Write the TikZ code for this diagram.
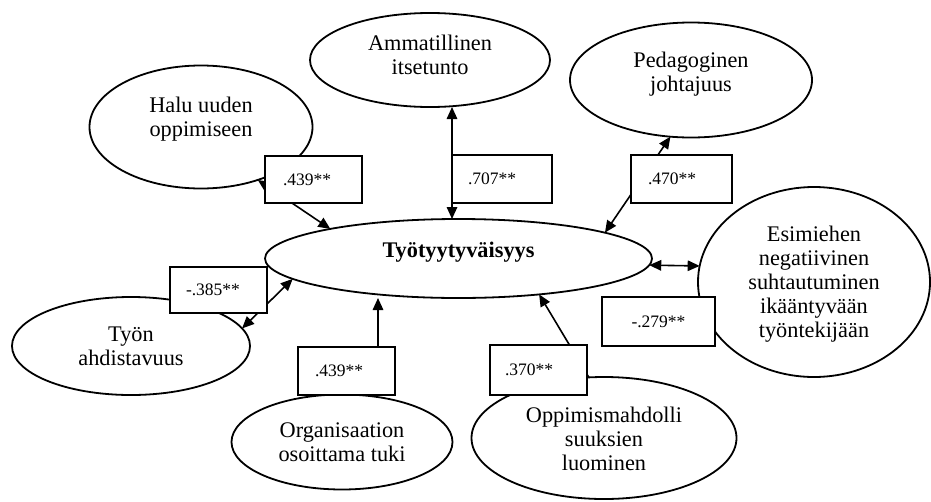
\documentclass[tikz,border=0pt]{standalone}
\usepackage{fontspec}
\setmainfont{Liberation Serif}
\usetikzlibrary{shapes.geometric,arrows.meta}
\newcommand\liftup[2]{\raisebox{#1}[\height][\depth]{\begin{tabular}{@{}c@{}}#2\end{tabular}}}
\begin{document}
\begin{tikzpicture}[x=1pt,y=-1pt,
  lbl/.style={ellipse,draw,fill=white,line width=1.8pt,inner sep=0pt,outer sep=0pt,align=center,font=\fontsize{22.3}{24}\selectfont},
  coef/.style={rectangle,draw,fill=white,line width=1.6pt,inner ysep=0pt,outer sep=0pt,align=left,font=\fontsize{17.5}{20}\selectfont},
  link/.style={line width=1.6pt,-{Triangle[length=12pt,width=10.5pt]}},
  dlink/.style={line width=1.6pt,{Triangle[length=12pt,width=10.5pt]}-{Triangle[length=12pt,width=10.5pt]}}]
\useasboundingbox (0,0) rectangle (931,501);
% ellipses
\node[lbl,minimum width=387pt,minimum height=79pt] (c) at (458.5,258.5) {\liftup{6pt}{\textbf{Työtyytyväisyys}}};
\node[lbl,minimum width=240pt,minimum height=94pt] (amm) at (430,60) {\liftup{2pt}{Ammatillinen\\itsetunto}};
\node[lbl,minimum width=223pt,minimum height=123pt] (halu) at (201,127) {\liftup{7pt}{Halu uuden\\oppimiseen}};
\node[lbl,minimum width=242pt,minimum height=115pt] (ped) at (691,80) {\liftup{5pt}{Pedagoginen\\johtajuus}};
\node[lbl,minimum width=232pt,minimum height=190pt] (esim) at (814,282) {\liftup{-3pt}{Esimiehen\\negatiivinen\\suhtautuminen\\ikääntyvään\\työntekijään}};
\node[lbl,minimum width=238pt,minimum height=98pt] (tyon) at (131,346) {Työn\\ahdistavuus};
\node[lbl,minimum width=221pt,minimum height=95pt] (org) at (342,442) {Organisaation\\osoittama tuki};
\node[lbl,minimum width=265pt,minimum height=122pt] (opp) at (604,438) {\liftup{-4pt}{Oppimismahdolli\\suuksien\\luominen}};
% helper coordinates
\coordinate (x2) at (452,0);
\coordinate (x5) at (378,0);
% connectors
\draw[dlink] (halu.-43.4) -- (c.167.8);
\draw[dlink] (amm.south -| x2) -- (c.north -| x2);
\draw[dlink] (ped.250.3) -- (c.10);
\draw[dlink] (c.-2.6) -- (esim.172.5);
\draw[dlink] (tyon.9.9) -- (c.187.7);
\draw[link] (org.north -| x5) -- (c.south -| x5);
\draw[link] (opp.104.3) -- (c.-24.4);
% coefficient boxes
\node[coef,minimum height=47pt,text width=61pt,inner xsep=18pt] (b1) at (313.5,179.5) {.439**};
\node[coef,minimum height=48pt,text width=68pt,inner xsep=16pt] (b2) at (502,179) {.707**};
\node[coef,minimum height=48pt,text width=67pt,inner xsep=17pt] (b3) at (681.5,179) {.470**};
\node[coef,minimum height=46pt,text width=65pt,inner xsep=16pt] (b4) at (218.5,290) {-.385**};
\node[coef,minimum height=48pt,text width=63pt,inner xsep=17pt] (b5) at (346.5,371) {.439**};
\node[coef,minimum height=50pt,text width=67pt,inner xsep=15pt] (b6) at (538.5,370) {.370**};
\node[coef,minimum height=49pt,text width=93pt,inner xsep=10pt,align=center] (b7) at (658.5,321.5) {-.279**};
\end{tikzpicture}
\end{document}
